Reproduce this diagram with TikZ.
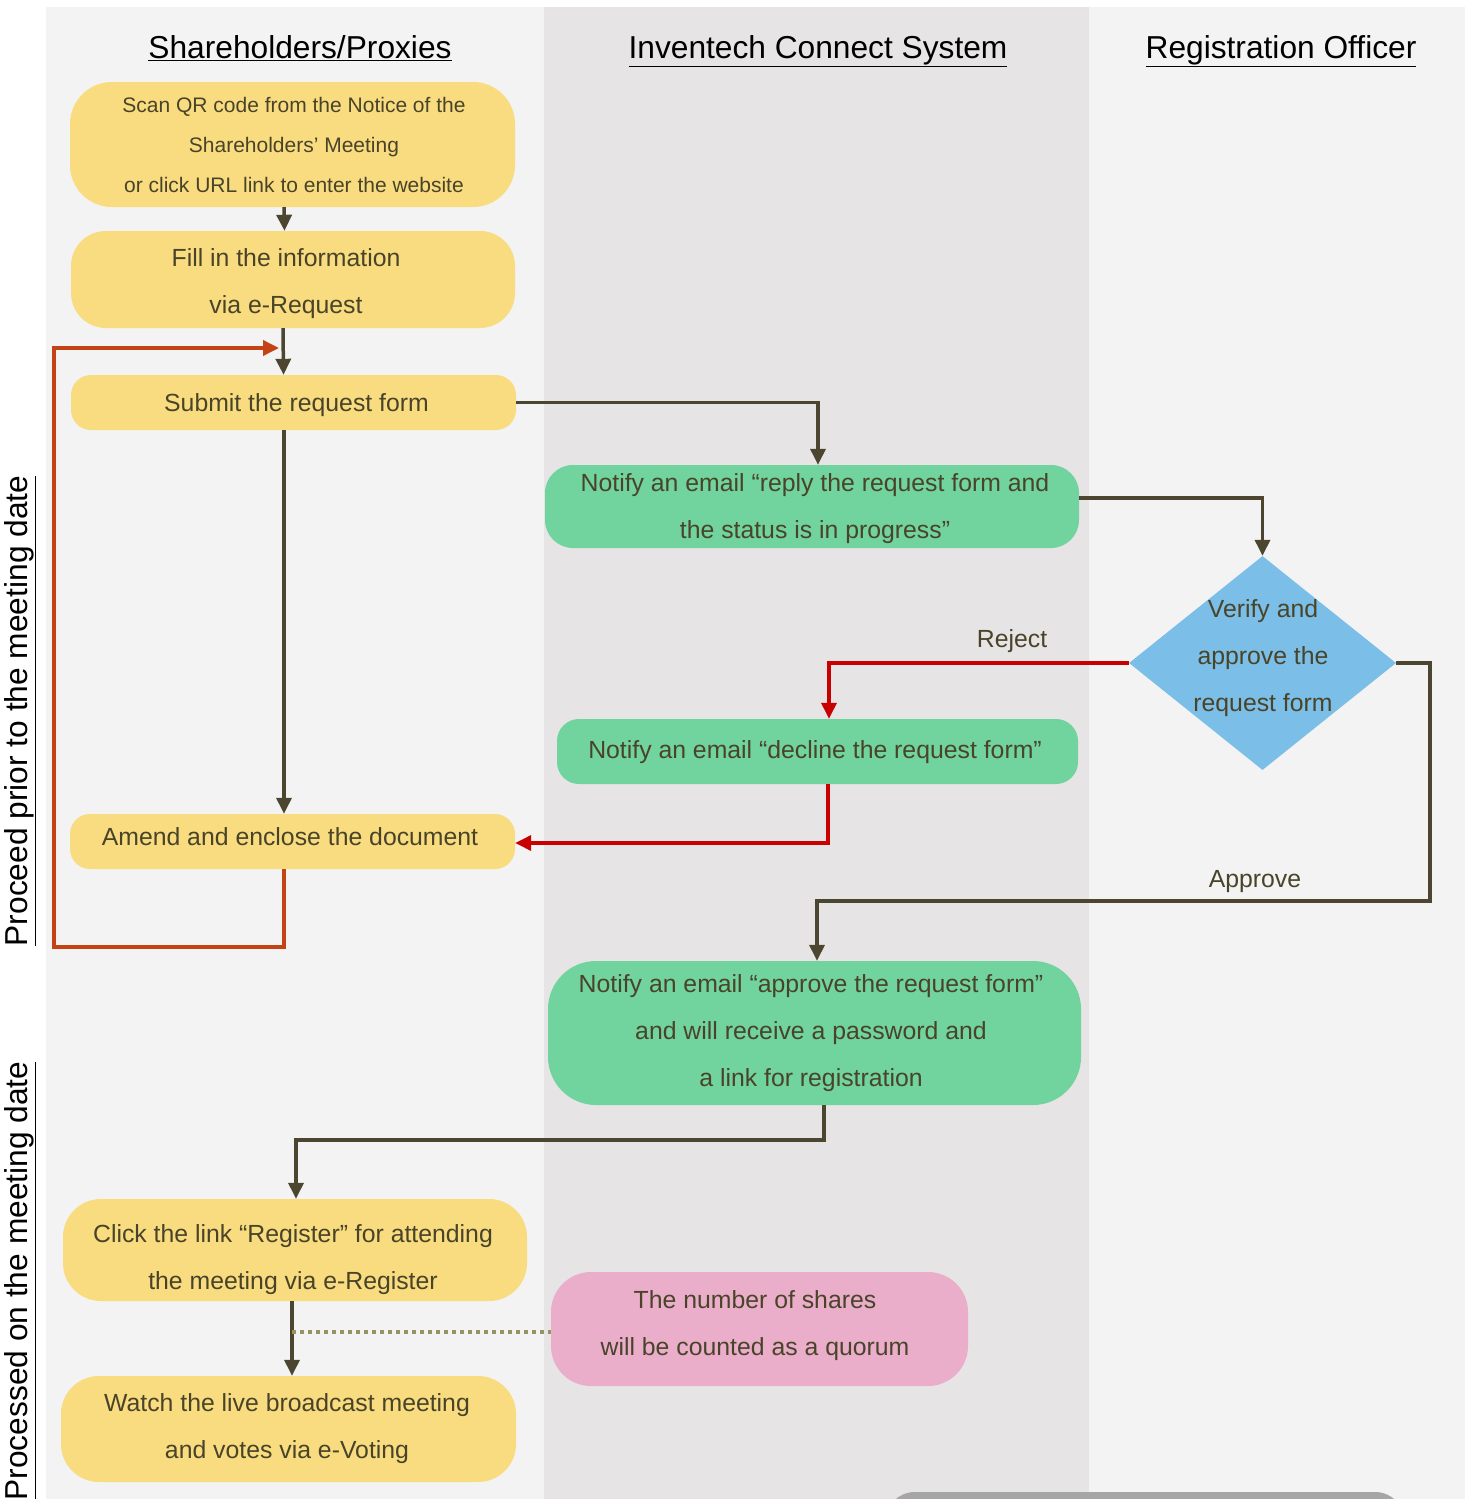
\documentclass[tikz,border=0pt]{standalone}
\usepackage{fontspec}
\setmainfont{Liberation Sans}
\usetikzlibrary{arrows.meta,shapes.geometric}
\definecolor{cBgL}{RGB}{242,243,242}
\definecolor{cBgM}{RGB}{231,228,229}
\definecolor{cYel}{RGB}{248,220,127}
\definecolor{cGrn}{RGB}{113,211,157}
\definecolor{cBlu}{RGB}{123,191,232}
\definecolor{cPnk}{RGB}{234,174,203}
\definecolor{cTxt}{RGB}{73,68,41}
\definecolor{cLine}{RGB}{76,70,48}
\definecolor{cRed}{RGB}{200,0,0}
\definecolor{cOrg}{RGB}{196,67,20}
\definecolor{cDot}{RGB}{155,146,98}
\definecolor{cGray}{RGB}{166,166,166}
\tikzset{
  shp/.style={draw=none, inner sep=0pt},
  ybox/.style={shp, fill=cYel},
  gbox/.style={shp, fill=cGrn},
  pbox/.style={shp, fill=cPnk},
  txt/.style={align=center, text=cTxt, inner sep=0pt, font=\fontsize{24.8}{47}\selectfont},
  head/.style={text=black, font=\fontsize{31.7}{36}\selectfont, inner sep=0pt},
  lbl/.style={text=cTxt, font=\fontsize{24.8}{30}\selectfont, inner sep=0pt},
  tip/.style={-{Triangle[length=16pt,width=15pt]}},
  arr/.style={line width=3.5pt, draw=cLine, tip},
  rarr/.style={line width=3.5pt, draw=cRed, tip},
  oarr/.style={line width=3.5pt, draw=cOrg, tip},
  dotl/.style={line width=3.5pt, draw=cDot, dash pattern=on 4pt off 4pt},
}
\begin{document}
\begin{tikzpicture}[x=1pt,y=-1pt]
\useasboundingbox (0,0) rectangle (1468,1499);
\begin{scope}
\clip (0,0) rectangle (1468,1499);
\fill[white] (0,0) rectangle (1468,1499);
\fill[cBgL] (46,7) rectangle (544,1499);
\fill[cBgM] (544,7) rectangle (1089,1499);
\fill[cBgL] (1089,7) rectangle (1465,1499);
\fill[cGray, rounded corners=30pt] (885,1492) rectangle (1405,1570);
\end{scope}

% headings
\node[head, anchor=base] (h1) at (300,58) {\underline{Shareholders/Proxies}};
\node[head, anchor=base] (h2) at (818,58) {\underline{Inventech Connect System}};
\node[head, anchor=base] (h3) at (1281,58) {\underline{Registration Officer}};
\node[head, rotate=90] (v1) at (20,711) {\underline{Proceed prior to the meeting date}};
\node[head, rotate=90] (v2) at (20,1281) {\underline{Processed on the meeting date}};

% shapes
\node[ybox, minimum width=445pt, minimum height=125pt, rounded corners=42pt] (scan) at (292.5,144.5) {};
\node[ybox, minimum width=444pt, minimum height=97pt, rounded corners=35pt] (fill) at (293,279.5) {};
\node[ybox, minimum width=445pt, minimum height=55pt, rounded corners=20pt] (submit) at (293.5,402.5) {};
\node[gbox, minimum width=534pt, minimum height=83pt, rounded corners=28pt] (reply) at (812,506.5) {};
\node[diamond, fill=cBlu, minimum width=267pt, minimum height=214pt, inner sep=0pt] (verify) at (1262.5,663) {};
\node[gbox, minimum width=521pt, minimum height=65pt, rounded corners=22pt] (decline) at (817.5,751.5) {};
\node[ybox, minimum width=445pt, minimum height=55pt, rounded corners=20pt] (amend) at (292.5,841.5) {};
\node[gbox, minimum width=533pt, minimum height=144pt, rounded corners=48pt] (approve) at (814.5,1033) {};
\node[ybox, minimum width=464pt, minimum height=102pt, rounded corners=38pt] (click) at (295,1250) {};
\node[ybox, minimum width=455pt, minimum height=106pt, rounded corners=38pt] (watch) at (288.5,1429) {};
\node[pbox, minimum width=417pt, minimum height=114pt, rounded corners=40pt] (pink) at (759.5,1329) {};

% texts
\node[txt, font=\fontsize{21}{40}\selectfont] (scanT) at (294,144.5)
  {Scan QR code from the Notice of the\\Shareholders’ Meeting\\or click URL link to enter the website};
\node[txt] (fillT) at (286,284) {Fill in the information\\via e-Request};
\node[txt] (submitT) at (296.5,405.5) {Submit the request form};
\node[txt] (replyT) at (815,508.5) {Notify an email “reply the request form and\\the status is in progress”};
\node[txt] (verifyT) at (1263,658) {Verify and\\approve the\\request form};
\node[txt] (declineT) at (815,752.5) {Notify an email “decline the request form”};
\node[txt] (amendT) at (290,836.5) {Amend and enclose the document};
\node[txt] (approveT) at (811,1033) {Notify an email “approve the request form”\\and will receive a password and\\a link for registration};
\node[txt] (clickT) at (293,1260) {Click the link “Register” for attending\\the meeting via e-Register};
\node[txt] (watchT) at (287,1429) {Watch the live broadcast meeting\\and votes via e-Voting};
\node[txt] (pinkT) at (755,1325.5) {The number of shares\\will be counted as a quorum};

% labels
\node[lbl] (rej) at (1012,641) {Reject};
\node[lbl] (appr) at (1255,882) {Approve};

% coordinates
\coordinate (loopBL) at (54,947);
\coordinate (loopEnd) at (279,348);
\coordinate (aprC) at (1430,901);
\coordinate (dotS) at (292,1332);

% connectors
\draw[arr] ([xshift=-8.5]scan.south) -- ([xshift=-8.5]fill.north);
\draw[arr] ([xshift=-10]fill.south) -- ([xshift=-10]submit.north);
\draw[arr] (submit.east) -| ([xshift=6]reply.north);
\draw[arr] ([xshift=-9.5]submit.south) -- ([xshift=-8.5]amend.north);
\draw[arr] ([yshift=8.5]reply.east) -| (verify.north);
\draw[rarr] (verify.west) -| ([xshift=11.5]decline.north);
\draw[rarr] ([xshift=10.5]decline.south) |- ([yshift=-1.5]amend.east);
\draw[oarr] ([xshift=-8.5]amend.south) |- (loopBL) |- (loopEnd);
\draw[arr] (verify.east) -| (aprC) -| ([xshift=2.5]approve.north);
\draw[arr] ([xshift=9.5]approve.south) -- ++(0,35) -| ([xshift=1]click.north);
\draw[arr] ([xshift=-3]click.south) -- ([xshift=3.5]watch.north);
\draw[dotl] (dotS) -- ([yshift=-3]pink.west);
\end{tikzpicture}
\end{document}
